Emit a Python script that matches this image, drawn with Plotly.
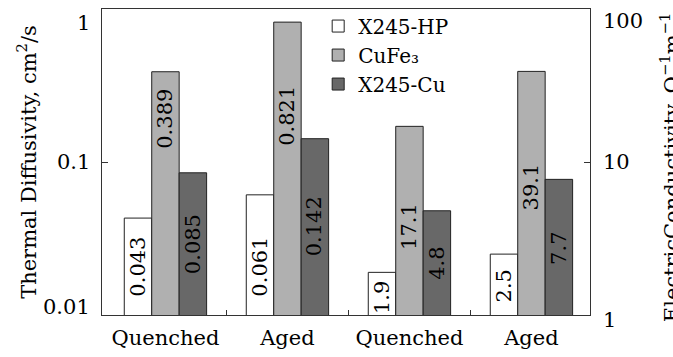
import math
import plotly.graph_objects as go

# ---- data ----
categories = ["Quenched", "Aged", "Quenched", "Aged"]
series_names = ["X245-HP", "CuFe\u2083", "X245-Cu"]
# Thermal diffusivity (left axis), groups 1-2
diffusivity = {
    "X245-HP": [0.043, 0.061],
    "CuFe\u2083": [0.389, 0.821],
    "X245-Cu": [0.085, 0.142],
}
# Electric conductivity (right axis), groups 3-4
conductivity = {
    "X245-HP": [1.9, 2.5],
    "CuFe\u2083": [17.1, 39.1],
    "X245-Cu": [4.8, 7.7],
}
# where the value labels sit (in axis units)
diff_label_at = {
    "X245-HP": [0.0207, 0.0207],
    "CuFe\u2083": [0.193, 0.2017],
    "X245-Cu": [0.029, 0.0379],
}
cond_label_at = {
    "X245-HP": [1.31, 1.56],
    "CuFe\u2083": [3.79, 6.86],
    "X245-Cu": [2.19, 2.74],
}
left_ticks = [0.01, 0.1, 1]
right_ticks = [1, 10, 100]

# ---- style ----
FONT = "DejaVu Serif"
FS = 21
colors = ["#ffffff", "#b0b0b0", "#686868"]
edge = "#222222"
frame = "#333333"
bw = 0.225
offsets = [-1.5 * bw, -0.5 * bw, 0.5 * bw]

left_x = [0, 1]
right_x = [2, 3]

fig = go.Figure()
annotations = []
for i, name in enumerate(series_names):
    fig.add_trace(go.Bar(
        x=left_x, y=diffusivity[name], name=name, width=bw, offset=offsets[i],
        marker=dict(color=colors[i], line=dict(color=edge, width=1)),
        yaxis="y", showlegend=True,
    ))
    fig.add_trace(go.Bar(
        x=right_x, y=conductivity[name], name=name, width=bw, offset=offsets[i],
        marker=dict(color=colors[i], line=dict(color=edge, width=1)),
        yaxis="y2", showlegend=False,
    ))
    for gx, v, ly in zip(left_x, diffusivity[name], diff_label_at[name]):
        annotations.append(dict(
            x=gx + offsets[i] + bw / 2, y=math.log10(ly), xref="x", yref="y",
            text=f"{v:g}", textangle=-90, showarrow=False,
            font=dict(family=FONT, size=FS, color="black"),
            xanchor="center", yanchor="middle"))
    for gx, v, ly in zip(right_x, conductivity[name], cond_label_at[name]):
        annotations.append(dict(
            x=gx + offsets[i] + bw / 2, y=math.log10(ly), xref="x", yref="y2",
            text=f"{v:g}", textangle=-90, showarrow=False,
            font=dict(family=FONT, size=FS, color="black"),
            xanchor="center", yanchor="middle"))

# tick labels as annotations (to mimic placement)
left_anchor = [("bottom", -6), ("middle", 0), ("top", 0)]
for t, (a, s) in zip(left_ticks, left_anchor):
    annotations.append(dict(
        x=0, y=math.log10(t), xref="paper", yref="y", text=f"{t:g}",
        showarrow=False, xanchor="right", yanchor=a, xshift=-10, yshift=s,
        font=dict(family=FONT, size=FS, color="black")))
right_anchor = [("middle", -5), ("middle", 0), ("top", 2)]
for t, (a, s) in zip(right_ticks, right_anchor):
    annotations.append(dict(
        x=1, y=math.log10(t), xref="paper", yref="y2", text=f"{t:g}",
        showarrow=False, xanchor="left", yanchor=a, xshift=11, yshift=s,
        font=dict(family=FONT, size=FS, color="black")))

# axis titles
annotations.append(dict(
    x=-0.154, y=0.5, xref="paper", yref="paper",
    text="Thermal Diffusivity, cm<sup>2</sup>/s", textangle=-90,
    showarrow=False, xanchor="center", yanchor="middle",
    font=dict(family=FONT, size=FS, color="black")))
annotations.append(dict(
    x=1.164, y=0.48, xref="paper", yref="paper",
    text="ElectricConductivity, \u03a9<sup>\u22121</sup>m<sup>\u22121</sup>", textangle=-90,
    showarrow=False, xanchor="center", yanchor="middle",
    font=dict(family=FONT, size=FS, color="black")))

fig.update_layout(
    width=673, height=357,
    margin=dict(l=102, r=83, t=7, b=39),
    paper_bgcolor="white", plot_bgcolor="white",
    barmode="overlay",
    font=dict(family=FONT, size=FS, color="black"),
    xaxis=dict(
        range=[-0.52, 3.48], tickmode="array", tickvals=[0, 1, 2, 3], ticktext=categories,
        ticks="", showgrid=False, zeroline=False, ticklabelstandoff=4,
        showline=True, linecolor=frame, linewidth=1, mirror=True,
        tickfont=dict(family=FONT, size=FS, color="black"),
        minor=dict(tickmode="array", tickvals=[0.5, 1.5, 2.5], ticks="inside",
                   ticklen=5, tickcolor=frame, showgrid=False),
    ),
    yaxis=dict(
        type="log", range=[-2, 0], tickvals=left_ticks, showticklabels=False,
        ticks="inside", ticklen=6, tickcolor=frame, showgrid=False, zeroline=False,
        showline=True, linecolor=frame, linewidth=1,
    ),
    yaxis2=dict(
        type="log", range=[0, 2], tickvals=right_ticks, showticklabels=False,
        ticks="inside", ticklen=6, tickcolor=frame, showgrid=False, zeroline=False,
        showline=True, linecolor=frame, linewidth=1,
        overlaying="y", side="right",
    ),
    legend=dict(
        x=0.443, y=1.008, xanchor="left", yanchor="top",
        bgcolor="rgba(0,0,0,0)", borderwidth=0,
        font=dict(family=FONT, size=20, color="black"),
    ),
    annotations=annotations,
)

fig.write_html("out.html")
